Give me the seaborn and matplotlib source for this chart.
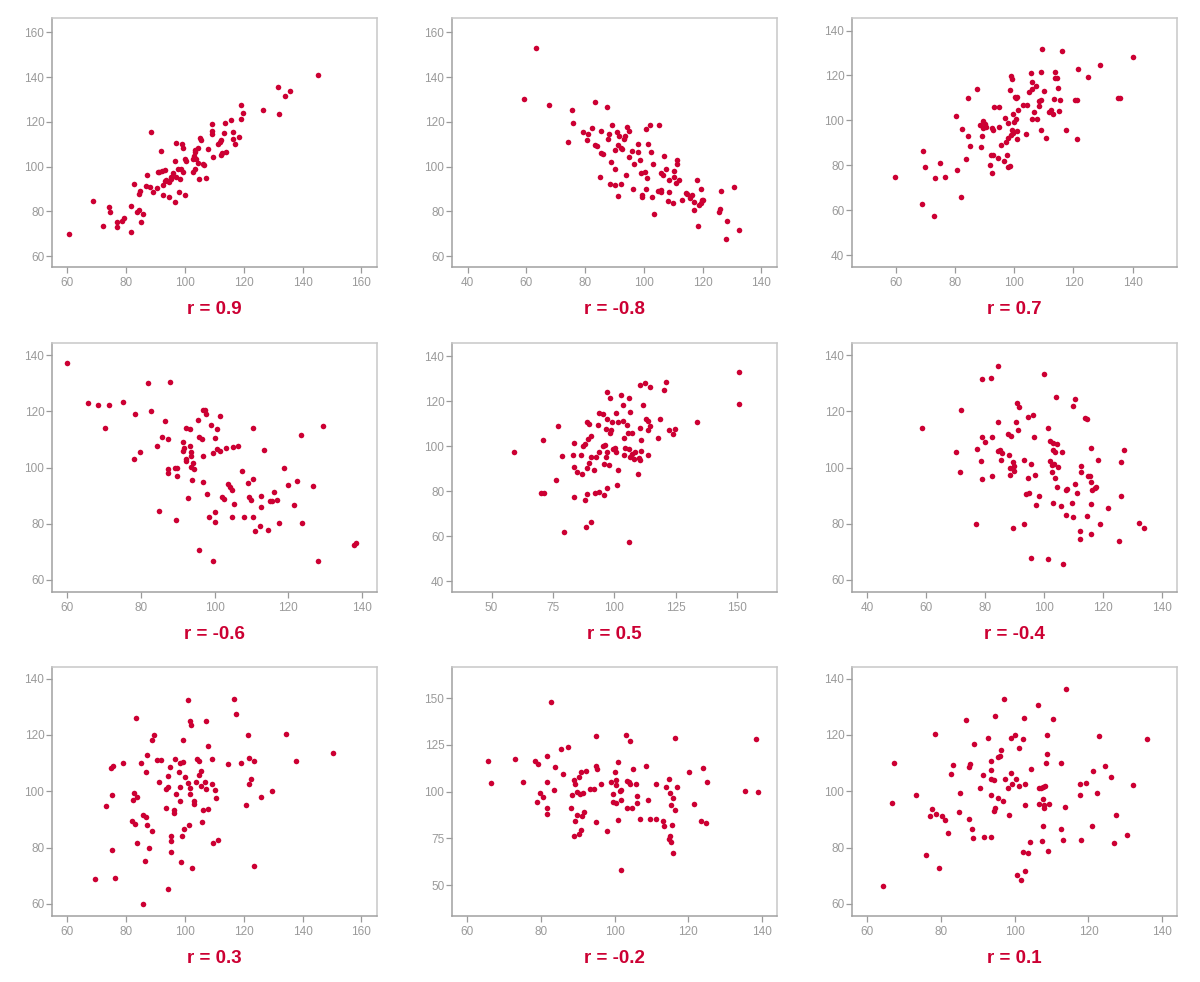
import numpy as np
import pandas as pd
import matplotlib
matplotlib.use("Agg")
import matplotlib.pyplot as plt
import seaborn as sns

# puntos, un panel por lista (x, y)
p1 = [(60.6, 70.1), (68.9, 84.7), (72.1, 73.5), (74.3, 82.2), (74.6, 79.6), (76.8, 75.5), (77.0, 73.2),
      (78.6, 75.6), (79.4, 77.3), (81.6, 70.7), (81.7, 82.5), (82.6, 92.4), (83.7, 79.6), (84.5, 80.8),
      (84.7, 89.0), (84.5, 87.8), (85.0, 75.3), (85.9, 79.0), (87.0, 96.2), (86.6, 91.4), (88.1, 91.1),
      (88.3, 115.7), (89.2, 88.7), (90.4, 90.5), (91.3, 97.6), (91.9, 106.9), (92.2, 97.9), (92.6, 87.2),
      (92.6, 92.0), (93.2, 98.4), (93.2, 93.8), (93.7, 93.9), (94.5, 86.3), (94.7, 93.2), (95.1, 94.4),
      (95.4, 95.3), (96.0, 97.4), (96.5, 84.1), (96.7, 102.4), (96.9, 95.6), (97.1, 110.6), (97.7, 99.0),
      (98.0, 88.7), (98.3, 94.7), (98.8, 99.1), (99.1, 110.0), (99.2, 108.4), (99.5, 97.6), (99.9, 103.3),
      (100.1, 87.2), (100.2, 102.6), (102.8, 97.8), (102.6, 103.6), (103.0, 104.9), (103.3, 106.6),
      (103.5, 99.1), (103.5, 107.5), (103.9, 103.3), (104.3, 101.7), (104.6, 108.2), (104.8, 94.5),
      (105.0, 112.8), (105.3, 111.9), (106.3, 101.2), (106.5, 100.9), (107.0, 95.1), (107.9, 107.8),
      (109.2, 119.2), (109.2, 116.0), (109.2, 114.5), (109.5, 104.3), (111.3, 110.3), (111.9, 111.0),
      (112.1, 111.8), (112.2, 105.1), (112.7, 106.3), (113.2, 115.2), (113.7, 119.4), (114.1, 106.6),
      (115.5, 120.9), (116.3, 115.4), (116.5, 112.2), (117.1, 110.0), (118.4, 113.3), (119.1, 127.4),
      (119.6, 123.8), (119.2, 121.5), (126.7, 125.5), (131.5, 135.4), (132.1, 123.7), (134.1, 131.4),
      (135.8, 133.7), (145.4, 141.1), (90.7, 97.6)]

p2 = [(63.2, 152.9), (59.1, 130.4), (67.8, 127.6), (75.6, 125.3), (75.9, 119.7), (74.2, 110.9), (79.3, 115.7),
      (81.0, 114.5), (80.8, 112.1), (82.5, 117.4), (83.2, 129.0), (83.3, 109.9), (84.1, 109.1), (85.4, 116.1),
      (85.3, 106.0), (86.2, 105.5), (85.0, 95.4), (87.6, 126.7), (87.8, 112.2), (88.1, 114.8), (89.3, 118.6),
      (88.8, 102.3), (88.5, 92.3), (90.2, 107.3), (90.3, 99.0), (90.3, 91.7), (91.0, 115.4), (91.3, 109.6),
      (91.7, 113.7), (92.1, 108.2), (92.4, 107.8), (92.3, 92.3), (91.2, 87.1), (93.2, 112.2), (93.6, 113.9),
      (94.3, 117.6), (94.8, 115.8), (93.8, 96.3), (94.9, 104.3), (96.0, 106.9), (96.3, 90.1), (96.7, 101.2),
      (98.0, 110.3), (97.9, 106.7), (98.8, 102.9), (99.1, 97.4), (99.2, 87.4), (99.2, 86.3), (100.3, 97.8),
      (100.6, 117.0), (100.6, 89.9), (101.2, 95.1), (101.4, 110.3), (102.2, 118.6), (102.4, 106.7),
      (102.8, 86.6), (103.2, 101.1), (103.3, 78.8), (104.9, 89.2), (105.0, 118.8), (105.7, 97.4),
      (105.9, 89.6), (105.9, 88.9), (106.5, 96.5), (106.7, 104.8), (107.5, 99.1), (108.3, 84.6), (108.5, 94.1),
      (108.5, 88.7), (110.0, 84.0), (110.3, 98.2), (110.2, 95.3), (111.0, 92.9), (111.1, 102.9), (111.2, 101.4),
      (111.9, 94.2), (112.9, 84.9), (114.4, 88.4), (114.6, 88.0), (115.6, 86.0), (116.4, 87.4), (116.9, 80.5),
      (116.9, 84.4), (118.1, 94.2), (118.4, 73.5), (118.6, 83.1), (119.3, 83.8), (119.7, 85.3), (119.5, 89.9),
      (120.2, 85.3), (125.6, 79.6), (125.8, 81.3), (126.1, 89.3), (127.8, 67.9), (128.4, 75.9), (130.5, 91.1),
      (132.4, 71.6)]

p3 = [(59.5, 74.8), (68.9, 62.7), (69.1, 86.4), (69.8, 79.1), (72.8, 57.5), (73.1, 74.3), (74.8, 81.2),
      (76.7, 74.9), (80.2, 102.1), (80.6, 77.9), (82.1, 66.0), (82.3, 96.2), (83.7, 82.6), (84.2, 110.1),
      (84.3, 93.2), (84.9, 88.7), (87.5, 114.0), (88.3, 97.8), (88.8, 88.3), (89.2, 93.2), (89.5, 99.6),
      (89.5, 96.8), (90.0, 98.5), (90.4, 97.2), (91.7, 80.0), (92.0, 84.6), (92.3, 96.6), (92.5, 76.7),
      (92.7, 84.7), (92.9, 95.9), (93.1, 106.1), (94.6, 83.2), (94.8, 106.1), (94.9, 97.1), (95.5, 89.2),
      (96.5, 81.9), (96.7, 100.9), (97.1, 90.4), (97.5, 84.6), (97.7, 79.1), (97.9, 99.0), (98.0, 92.3),
      (98.4, 113.6), (98.5, 79.7), (98.8, 93.5), (98.9, 119.6), (99.2, 118.3), (99.3, 95.9), (99.5, 94.2),
      (99.7, 102.9), (99.9, 99.4), (100.1, 110.3), (100.5, 100.6), (100.6, 109.8), (100.9, 110.4),
      (101.0, 95.3), (101.0, 91.9), (101.2, 104.8), (102.8, 106.9), (103.8, 94.1), (104.2, 106.9),
      (105.1, 112.7), (105.7, 121.0), (105.8, 100.6), (105.9, 117.0), (106.1, 113.8), (106.6, 103.9),
      (107.2, 115.2), (107.5, 100.8), (108.2, 106.6), (108.5, 108.5), (109.0, 109.1), (109.0, 121.4),
      (109.1, 95.9), (109.4, 131.7), (110.0, 113.0), (110.8, 92.3), (111.8, 103.7), (112.4, 104.8),
      (113.2, 102.7), (113.4, 109.7), (113.6, 121.4), (113.6, 118.9), (114.3, 118.8), (114.8, 114.4),
      (115.2, 104.2), (115.5, 109.1), (116.0, 130.8), (117.6, 95.9), (120.4, 109.2), (121.3, 108.9),
      (121.2, 91.9), (121.6, 123.1), (124.9, 119.5), (129.0, 124.7), (134.9, 110.0), (135.7, 110.0),
      (140.0, 128.4)]

p4 = [(60.0, 137.3), (65.5, 123.0), (68.4, 122.3), (71.2, 122.3), (70.3, 114.0), (75.1, 123.3), (78.3, 119.0),
      (78.0, 103.2), (79.7, 105.6), (82.0, 129.9), (82.8, 120.2), (84.3, 107.7), (84.8, 84.5), (85.7, 111.0),
      (86.4, 116.4), (87.4, 110.2), (87.3, 99.6), (87.4, 97.9), (88.0, 130.5), (89.3, 99.8), (89.8, 100.0),
      (89.9, 97.1), (89.5, 81.4), (91.4, 109.2), (91.7, 106.9), (91.4, 105.7), (92.2, 114.2), (92.2, 103.1),
      (92.3, 102.3), (93.2, 113.6), (93.4, 107.6), (93.7, 105.5), (93.6, 104.2), (93.7, 100.2), (94.1, 101.7),
      (94.5, 99.5), (92.9, 89.3), (93.8, 95.4), (95.5, 117.0), (95.8, 110.7), (96.6, 110.2), (96.8, 120.4),
      (97.3, 120.4), (97.8, 119.0), (96.9, 104.0), (96.8, 94.9), (95.8, 70.6), (98.0, 90.4), (98.6, 82.3),
      (99.0, 115.1), (99.5, 105.1), (99.6, 66.9), (100.0, 84.0), (100.0, 80.7), (100.2, 110.5), (100.8, 113.7),
      (100.8, 106.5), (101.4, 105.8), (101.4, 118.2), (103.1, 106.9), (102.0, 89.4), (102.6, 88.7),
      (103.6, 94.0), (104.3, 93.2), (104.7, 92.1), (105.1, 107.4), (105.4, 87.0), (104.7, 82.5),
      (106.3, 107.7), (107.6, 98.8), (108.1, 82.4), (109.0, 94.5), (109.3, 89.4), (109.9, 88.6),
      (110.5, 95.8), (110.5, 82.5), (110.6, 113.9), (111.0, 77.5), (112.4, 79.3), (112.6, 89.8),
      (112.6, 85.8), (113.4, 106.1), (114.6, 77.6), (115.0, 88.0), (115.7, 88.0), (116.2, 91.3),
      (117.0, 88.3), (117.6, 80.1), (119.0, 100.0), (119.9, 93.7), (121.7, 86.5), (122.5, 95.1),
      (123.4, 111.4), (123.9, 80.2), (126.7, 93.3), (128.2, 66.7), (129.5, 114.8), (137.9, 72.4),
      (138.4, 73.2)]

p5 = [(59.3, 97.6), (70.1, 79.1), (71.5, 79.4), (70.9, 102.9), (76.4, 85.1), (77.2, 108.9), (78.9, 95.8),
      (79.4, 61.9), (83.1, 96.1), (83.6, 101.6), (83.5, 90.9), (83.7, 77.5), (84.9, 88.5), (86.4, 96.1),
      (87.0, 87.6), (87.1, 100.1), (87.9, 101.0), (88.1, 76.2), (88.6, 64.1), (88.8, 110.8), (88.9, 78.8),
      (89.0, 90.4), (89.4, 103.0), (89.7, 92.5), (89.9, 109.8), (90.7, 104.6), (90.7, 95.2), (90.7, 66.3),
      (91.9, 89.6), (92.2, 79.4), (92.7, 95.2), (93.2, 109.3), (93.6, 114.9), (93.8, 97.6), (93.9, 79.7),
      (95.4, 114.4), (95.3, 100.1), (95.7, 92.1), (95.8, 78.2), (96.3, 100.6), (96.5, 107.7), (96.5, 95.4),
      (96.9, 81.5), (97.2, 124.2), (97.2, 112.2), (97.2, 97.3), (98.0, 91.8), (98.4, 121.4), (98.4, 106.1),
      (98.8, 107.3), (99.2, 110.7), (99.6, 98.8), (100.3, 99.2), (100.7, 114.9), (100.8, 97.6), (101.1, 82.9),
      (101.4, 110.7), (101.4, 89.3), (102.8, 122.9), (103.4, 111.4), (103.7, 118.4), (103.8, 96.1),
      (103.9, 103.8), (104.5, 99.2), (105.0, 109.6), (105.7, 105.8), (106.1, 98.8), (106.1, 57.3),
      (106.2, 121.5), (106.5, 95.4), (106.6, 115.1), (107.2, 96.5), (107.3, 105.8), (107.9, 94.5),
      (108.5, 97.6), (109.6, 87.8), (110.0, 94.8), (110.4, 108.0), (110.6, 94.0), (110.6, 127.1),
      (110.8, 97.9), (111.0, 102.8), (111.9, 118.4), (112.6, 128.1), (113.0, 112.2), (113.7, 96.3),
      (113.7, 111.3), (113.7, 107.0), (114.5, 109.0), (114.6, 126.5), (117.9, 103.8), (118.7, 112.2),
      (120.1, 125.1), (120.9, 128.5), (122.1, 107.0), (124.1, 105.5), (124.9, 107.7), (133.9, 110.8),
      (150.7, 133.2), (150.8, 118.7)]

p6 = [(58.8, 114.0), (70.2, 105.5), (71.6, 98.5), (71.8, 120.5), (77.1, 80.0), (77.2, 106.5), (78.5, 102.3),
      (78.9, 110.7), (79.0, 95.8), (79.1, 131.5), (80.0, 108.9), (81.9, 132.0), (82.3, 110.8), (82.5, 97.1),
      (84.3, 116.3), (84.5, 136.1), (84.5, 105.8), (85.2, 106.2), (85.3, 102.7), (85.9, 105.0), (87.7, 111.9),
      (88.0, 104.6), (88.5, 97.3), (88.7, 111.2), (88.6, 100.0), (89.4, 78.3), (89.5, 102.1), (89.8, 98.8),
      (89.7, 100.4), (90.5, 116.2), (90.8, 122.9), (91.1, 113.5), (91.5, 121.5), (93.3, 102.6), (93.3, 79.8),
      (94.0, 90.5), (94.6, 96.1), (94.7, 118.0), (95.0, 91.0), (95.7, 101.1), (95.7, 67.7), (96.2, 118.7),
      (96.7, 110.8), (96.9, 97.4), (97.4, 86.7), (98.2, 89.9), (99.9, 133.3), (101.2, 114.0), (101.5, 67.5),
      (102.1, 109.5), (102.1, 102.4), (102.6, 101.0), (102.7, 98.5), (102.9, 87.4), (103.1, 108.6),
      (103.2, 106.4), (103.3, 101.1), (103.7, 96.3), (103.8, 105.4), (104.2, 125.0), (104.3, 108.2),
      (104.4, 92.9), (104.9, 100.2), (105.9, 86.4), (106.1, 105.4), (106.3, 65.8), (107.3, 83.2),
      (107.3, 91.9), (107.9, 92.5), (109.4, 87.3), (109.7, 82.3), (109.8, 121.9), (110.4, 124.5),
      (110.6, 94.3), (111.3, 91.0), (112.3, 77.3), (112.3, 74.4), (112.4, 100.5), (112.4, 98.5),
      (113.8, 117.7), (114.5, 117.4), (114.6, 82.7), (115.0, 97.1), (115.7, 97.1), (115.8, 76.5),
      (115.9, 106.8), (115.9, 95.0), (116.0, 86.9), (116.4, 92.0), (117.2, 92.7), (117.6, 93.2),
      (118.4, 102.7), (119.0, 79.9), (121.6, 85.5), (125.4, 73.7), (126.0, 102.0), (126.0, 90.0),
      (127.1, 106.3), (132.2, 80.4), (133.9, 78.3)]

p7 = [(69.4, 69.0), (73.0, 94.8), (75.1, 79.2), (74.9, 108.4), (75.5, 108.9), (75.3, 98.7), (76.1, 69.3),
      (78.9, 110.1), (82.1, 89.3), (82.5, 96.9), (82.8, 99.5), (82.9, 88.2), (83.3, 126.1), (83.6, 98.1),
      (83.6, 81.6), (85.0, 110.1), (85.6, 91.5), (86.3, 75.4), (86.6, 106.8), (86.7, 90.9), (87.0, 88.1),
      (87.2, 112.9), (85.8, 60.0), (87.9, 79.8), (88.7, 118.2), (88.9, 85.8), (89.6, 119.9), (90.6, 111.0),
      (91.3, 103.3), (92.0, 111.2), (93.6, 94.1), (93.6, 100.8), (94.1, 65.3), (94.2, 105.3), (94.3, 101.5),
      (94.9, 108.5), (95.1, 84.0), (95.4, 82.2), (95.1, 78.4), (96.2, 92.4), (96.4, 93.4), (96.5, 111.6),
      (97.0, 98.9), (98.1, 106.8), (98.3, 109.9), (98.3, 96.4), (98.4, 101.4), (98.7, 74.7), (99.1, 84.2),
      (99.4, 118.2), (99.5, 110.3), (99.8, 86.7), (99.9, 105.0), (101.0, 103.0), (101.2, 132.4),
      (101.4, 87.9), (101.7, 124.9), (101.7, 99.0), (101.8, 101.1), (102.2, 123.4), (102.4, 72.9),
      (103.0, 96.6), (103.1, 95.6), (103.8, 103.4), (104.1, 111.4), (104.7, 105.9), (104.9, 110.8),
      (105.6, 107.2), (105.6, 101.7), (105.9, 89.2), (106.3, 93.4), (106.8, 103.3), (107.2, 124.8),
      (107.3, 100.8), (107.8, 93.8), (108.0, 116.0), (109.2, 111.6), (109.2, 102.7), (109.5, 81.7),
      (110.1, 100.5), (110.7, 97.5), (111.2, 82.8), (114.5, 109.7), (116.7, 132.9), (117.5, 127.5),
      (119.1, 109.9), (120.7, 95.1), (121.3, 120.1), (121.8, 111.9), (121.8, 102.5), (122.6, 104.5),
      (123.5, 73.5), (123.6, 110.8), (125.9, 98.0), (129.5, 100.0), (134.3, 120.2), (137.8, 110.6),
      (150.5, 113.4)]

p8 = [(65.6, 116.3), (66.3, 104.5), (73.0, 117.3), (75.0, 105.0), (78.4, 116.6), (79.2, 114.8), (79.7, 99.5),
      (79.0, 94.6), (80.5, 97.0), (81.7, 119.1), (81.7, 105.4), (81.7, 91.4), (81.7, 87.9), (82.6, 148.0),
      (83.6, 101.1), (83.9, 113.2), (85.5, 122.7), (85.9, 109.6), (87.4, 123.9), (88.2, 91.1), (88.5, 98.2),
      (89.0, 106.4), (89.3, 104.3), (89.3, 84.5), (89.0, 76.1), (89.7, 99.6), (89.9, 87.5), (90.3, 107.7),
      (90.3, 77.5), (90.6, 98.8), (90.8, 110.7), (91.0, 79.5), (91.2, 87.0), (91.5, 99.1), (91.6, 88.9),
      (92.2, 111.1), (93.2, 101.3), (94.3, 101.3), (94.9, 129.5), (94.9, 113.8), (95.3, 112.3), (95.1, 83.6),
      (96.3, 104.1), (97.9, 78.8), (99.0, 105.2), (99.7, 98.9), (99.7, 94.6), (100.0, 110.4), (100.3, 93.9),
      (100.4, 106.1), (100.5, 103.6), (100.9, 84.8), (101.0, 116.1), (101.4, 100.4), (101.8, 100.9),
      (101.8, 95.5), (101.7, 58.4), (103.1, 130.5), (103.3, 105.9), (103.5, 91.3), (104.0, 105.0),
      (104.2, 127.3), (104.3, 103.9), (104.8, 91.3), (104.9, 112.3), (105.8, 104.3), (106.0, 94.1),
      (106.2, 97.9), (107.0, 85.4), (108.6, 113.6), (109.2, 95.4), (109.7, 85.5), (111.2, 85.5),
      (111.4, 104.1), (113.2, 84.3), (113.4, 81.6), (113.9, 102.5), (114.8, 106.6), (115.1, 99.1),
      (114.9, 74.6), (115.1, 76.3), (115.4, 92.9), (115.4, 72.9), (115.6, 82.1), (115.8, 96.4),
      (116.0, 67.0), (116.4, 128.9), (116.5, 90.0), (117.1, 102.5), (120.3, 110.4), (121.6, 93.4),
      (123.6, 84.6), (124.0, 112.7), (124.9, 83.2), (125.2, 105.2), (135.5, 100.5), (138.6, 128.2),
      (138.9, 100.0)]

p9 = [(64.2, 66.5), (66.8, 95.7), (67.3, 109.9), (73.2, 98.5), (76.0, 77.2), (77.0, 91.1), (77.7, 93.6),
      (78.5, 120.2), (78.6, 91.9), (79.6, 72.6), (80.2, 91.2), (81.1, 89.7), (82.0, 85.2), (82.8, 106.1),
      (83.3, 109.3), (84.8, 92.5), (85.1, 99.3), (86.7, 125.3), (87.6, 108.5), (87.8, 109.5), (87.7, 90.0),
      (88.5, 86.5), (88.6, 83.4), (88.9, 116.6), (90.6, 101.3), (91.4, 105.7), (91.7, 83.7), (92.8, 118.9),
      (93.5, 104.5), (93.5, 83.8), (93.6, 98.8), (93.7, 110.8), (93.7, 107.4), (94.4, 103.9), (94.4, 93.0),
      (94.6, 93.9), (94.6, 126.6), (95.5, 97.6), (95.6, 112.3), (95.9, 112.5), (96.2, 114.7), (96.9, 96.7),
      (97.2, 132.8), (97.4, 104.3), (98.2, 101.2), (98.4, 91.6), (99.0, 106.3), (99.0, 118.9), (99.4, 102.7),
      (100.0, 119.9), (100.3, 104.2), (100.7, 70.4), (101.2, 115.2), (101.2, 101.8), (101.7, 68.5),
      (102.2, 118.4), (102.3, 78.4), (102.4, 125.9), (102.7, 102.6), (102.7, 71.6), (102.9, 95.0),
      (103.6, 77.9), (104.1, 82.1), (104.4, 107.8), (106.2, 130.6), (106.6, 101.0), (106.7, 95.4),
      (107.2, 101.2), (107.5, 82.2), (107.6, 97.2), (107.8, 87.8), (107.8, 101.6), (108.0, 95.1),
      (108.0, 93.9), (108.3, 102.0), (108.4, 110.0), (108.7, 119.8), (108.8, 113.1), (108.9, 78.9),
      (109.4, 95.4), (110.5, 125.5), (112.5, 109.9), (112.5, 86.7), (113.2, 82.6), (113.6, 94.3),
      (114.0, 136.2), (117.7, 102.7), (117.7, 98.6), (118.1, 82.7), (119.2, 102.8), (121.0, 87.5),
      (121.1, 107.2), (122.3, 99.2), (122.8, 119.5), (124.6, 109.0), (126.2, 104.9), (126.9, 81.5),
      (127.5, 91.7), (130.4, 84.4), (132.1, 102.3), (135.8, 118.4)]

paneles = [p1, p2, p3, p4, p5, p6, p7, p8, p9]
titulos = ["r = 0.9", "r = -0.8", "r = 0.7", "r = -0.6", "r = 0.5", "r = -0.4", "r = 0.3", "r = -0.2", "r = 0.1"]

# ticks de cada panel
xticks = [range(60, 161, 20), range(40, 141, 20), range(60, 141, 20),
          range(60, 141, 20), range(50, 151, 25), range(40, 141, 20),
          range(60, 161, 20), range(60, 141, 20), range(60, 141, 20)]
yticks = [range(60, 161, 20), range(60, 161, 20), range(40, 141, 20),
          range(60, 141, 20), range(40, 141, 20), range(60, 141, 20),
          range(60, 141, 20), range(50, 151, 25), range(60, 141, 20)]

# limites de los ejes
xlims = [(54.8, 165.3), (34.7, 145.3), (45.1, 155.0), (55.8, 144.2), (33.9, 166.3),
         (34.9, 145.1), (54.8, 165.3), (55.8, 144.2), (55.9, 144.0)]
ylims = [(55.2, 166.4), (55.2, 166.4), (34.7, 145.6), (55.7, 144.3), (35.2, 145.9),
         (55.7, 144.3), (55.7, 144.1), (33.6, 166.6), (55.7, 144.1)]

sns.set_style("white")
plt.rcParams["font.family"] = ["Liberation Sans", "DejaVu Sans"]

rojo = "#cc0033"
gris = "#9a9a9a"

fig = plt.figure(figsize=(12, 9.82), dpi=100)

izq = [52, 452, 852]
arriba = [18, 343, 667]
ancho, alto = 325, 249

for i, pts in enumerate(paneles):
    fila, col = divmod(i, 3)
    ax = fig.add_axes([izq[col] / 1200, 1 - (arriba[fila] + alto) / 982, ancho / 1200, alto / 982])
    df = pd.DataFrame(pts, columns=["x", "y"])
    sns.scatterplot(data=df, x="x", y="y", ax=ax, color=rojo, s=16, linewidth=0)

    ax.set_xlim(*xlims[i])
    ax.set_ylim(*ylims[i])
    ax.set_xticks(list(xticks[i]))
    ax.set_yticks(list(yticks[i]))
    ax.set_xlabel("")
    ax.set_ylabel("")

    for lado in ["left", "bottom"]:
        ax.spines[lado].set_color("#a0a0a0")
        ax.spines[lado].set_linewidth(1.1)
    for lado in ["top", "right"]:
        ax.spines[lado].set_color("#c8c8c8")
        ax.spines[lado].set_linewidth(1.1)

    ax.tick_params(axis="both", colors=gris, labelsize=8.5, length=4.5, width=0.9,
                   direction="out", bottom=True, left=True)
    ax.tick_params(axis="x", pad=3)
    ax.tick_params(axis="y", pad=1)

    ax.text(0.5, -0.17, titulos[i], transform=ax.transAxes, ha="center", va="center",
            fontsize=13.5, fontweight="bold", color=rojo)

plt.savefig("out.png", dpi=100)
